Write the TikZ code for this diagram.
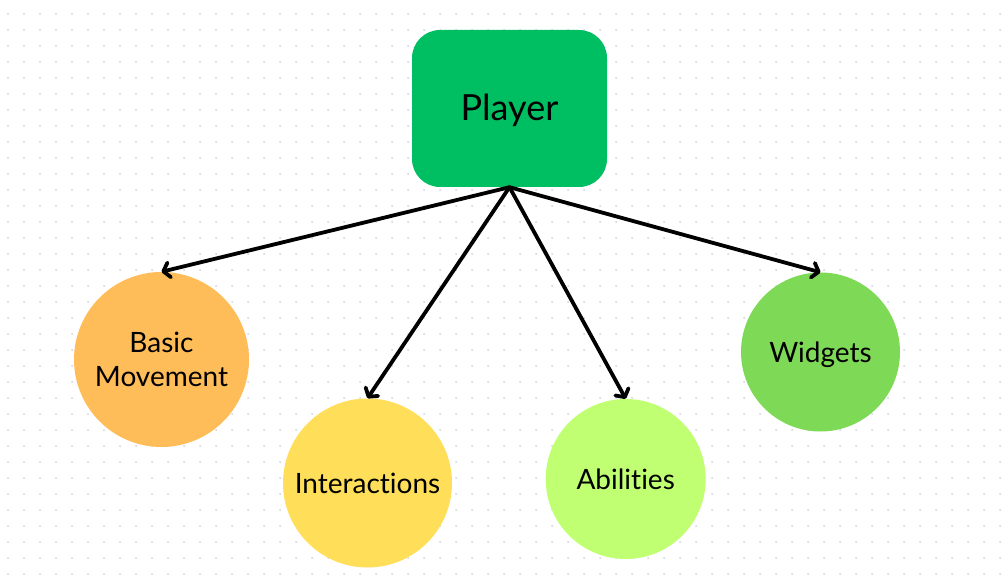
\documentclass[tikz,border=0pt]{standalone}
\usepackage{fontspec}
\setmainfont{Lato}[Ligatures=NoCommon]
\usetikzlibrary{arrows.meta}
\definecolor{dotc}{HTML}{CDD1DE}
\definecolor{playerc}{HTML}{00BF63}
\definecolor{basicc}{HTML}{FFBD59}
\definecolor{interc}{HTML}{FFDE59}
\definecolor{abilc}{HTML}{C1FF72}
\definecolor{widgc}{HTML}{7ED957}
\tikzset{
  rootbox/.style={rectangle, rounded corners=28pt, fill=playerc, draw=none,
    minimum width=195pt, minimum height=157pt, inner sep=0pt,
    font=\fontsize{36}{42}\selectfont, text height=25pt, text depth=0pt},
  leaf/.style={circle, draw=none, inner sep=0pt, align=center,
    font=\fontsize{28}{34.5}\selectfont},
  arr/.style={line width=3.8pt, line cap=round, line join=round,
    -{Straight Barb[length=6pt,width=15pt,round]}}
}
\begin{document}
\begin{tikzpicture}[x=1pt,y=-1pt]
\useasboundingbox (0,0) rectangle (1002,588);
\fill[white] (0,0) rectangle (1002,588);
\foreach \i in {0,...,62}{
  \foreach \j in {0,...,35}{
    \fill[dotc] (8+16*\i,14+16*\j) circle[radius=1pt];
  }
}
\node[rootbox] (P) at (509.5,108.5) {Player};
\node[leaf, fill=basicc, minimum size=175pt] (B) at (161.5,359.5) {Basic\\Movement};
\node[leaf, fill=interc, minimum size=169pt, text height=20pt, text depth=0pt] (I) at (367.5,483) {Interactions};
\node[leaf, fill=abilc, minimum size=160pt, text height=20pt, text depth=0pt] (A) at (625.7,479) {Abilities};
\node[leaf, fill=widgc, minimum size=159pt, text height=20pt, text depth=0pt] (W) at (820.5,352) {Widgets};
\draw[arr] (P.south) -- (B.north);
\draw[arr] (P.south) -- (I.north);
\draw[arr] (P.south) -- (A.north);
\draw[arr] (P.south) -- (W.north);
\end{tikzpicture}
\end{document}
